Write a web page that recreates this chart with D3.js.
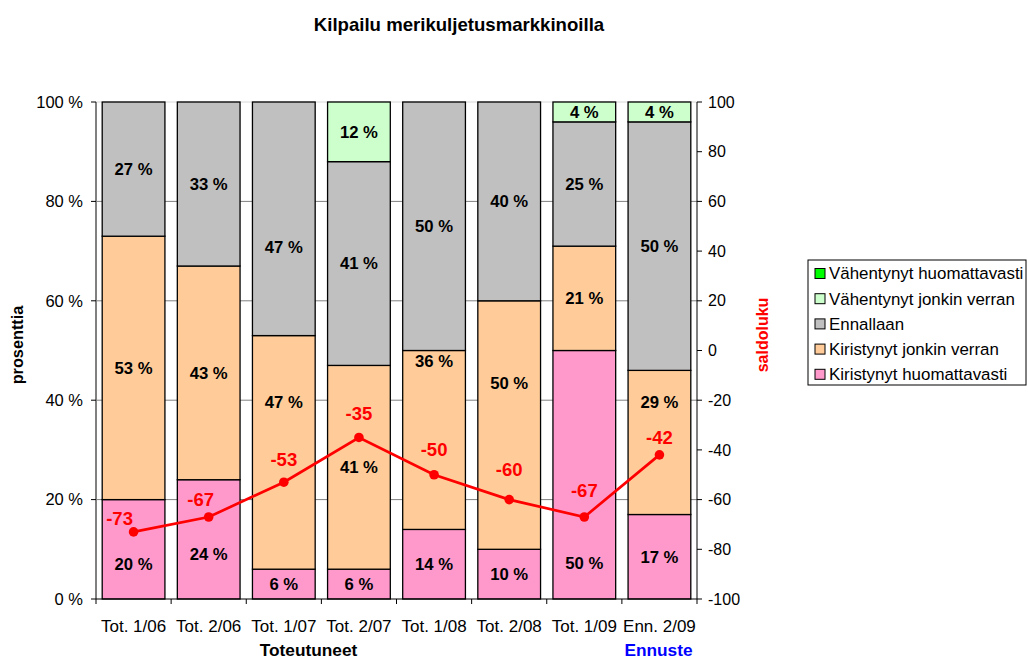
<!DOCTYPE html>
<html>
<head>
<meta charset="utf-8">
<script src="https://cdn.jsdelivr.net/npm/d3@7"></script>
<style>
  body { margin: 0; background: #fff; }
  svg text { font-family: "Liberation Sans", Arial, sans-serif; }
</style>
</head>
<body>
<div id="chart"></div>
<script>
// data
const categories = ["Tot. 1/06", "Tot. 2/06", "Tot. 1/07", "Tot. 2/07", "Tot. 1/08", "Tot. 2/08", "Tot. 1/09", "Enn. 2/09"];
const kirHuom = [20, 24, 6, 6, 14, 10, 50, 17];
const kirJonk = [53, 43, 47, 41, 36, 50, 21, 29];
const ennallaan = [27, 33, 47, 41, 50, 40, 25, 50];
const vahJonk = [0, 0, 0, 12, 0, 0, 4, 4];
const vahHuom = [0, 0, 0, 0, 0, 0, 0, 0];
const saldo = [-73, -67, -53, -35, -50, -60, -67, -42];
const leftTicks = [0, 20, 40, 60, 80, 100];
const rightTicks = [-100, -80, -60, -40, -20, 0, 20, 40, 60, 80, 100];

const series = [
  { name: "Kiristynyt huomattavasti", values: kirHuom, color: "#FF99CC" },
  { name: "Kiristynyt jonkin verran", values: kirJonk, color: "#FFCC99" },
  { name: "Ennallaan", values: ennallaan, color: "#C0C0C0" },
  { name: "Vähentynyt jonkin verran", values: vahJonk, color: "#CCFFCC" },
  { name: "Vähentynyt huomattavasti", values: vahHuom, color: "#00FF00" }
];

// hand-moved labels in the original (pixel shift from segment middle)
const barLabelShift = { "0-0": 15, "0-1": 15, "0-6": 88, "1-2": -50, "1-4": -79, "1-5": -42, "1-7": -40, "2-2": 28 };
const lineLabelDx = [-14, -8, 0, 0, 0, 0, 0, 0];
const lineLabelDy = [-13, -17, -23, -24, -25.5, -30.5, -26, -17];

const width = 1028, height = 659;
const margin = { top: 102, right: 331, bottom: 60, left: 96 };
const fs = 16.7;

const svg = d3.select("#chart").append("svg")
  .attr("width", width)
  .attr("height", height);

const x = d3.scaleBand()
  .domain(categories)
  .range([margin.left, width - margin.right])
  .paddingInner(0.165)
  .paddingOuter(0.0825);

const y = d3.scaleLinear().domain([0, 100]).range([height - margin.bottom, margin.top]);
const y2 = d3.scaleLinear().domain([-100, 100]).range(y.range());

// gridlines
svg.append("g")
  .selectAll("line")
  .data(leftTicks.filter(d => d > 0))
  .join("line")
  .attr("x1", margin.left).attr("x2", width - margin.right)
  .attr("y1", d => y(d)).attr("y2", d => y(d))
  .attr("stroke", d => d == 100 ? "#d8d8d8" : "#808080")
  .attr("stroke-width", 1);

// stacked bars
const rows = categories.map((c, i) => {
  const r = { cat: c, idx: i };
  series.forEach(s => r[s.name] = s.values[i]);
  return r;
});
const stack = d3.stack().keys(series.map(s => s.name))(rows);

const layers = svg.append("g")
  .selectAll("g.layer")
  .data(stack)
  .join("g")
  .attr("class", "layer")
  .attr("fill", (d, i) => series[i].color);

layers.selectAll("rect")
  .data(d => d.filter(p => p[1] - p[0] > 0))
  .join("rect")
  .attr("x", d => x(d.data.cat))
  .attr("width", x.bandwidth())
  .attr("y", d => y(d[1]))
  .attr("height", d => y(d[0]) - y(d[1]))
  .attr("stroke", "#000")
  .attr("stroke-width", 1.3);

layers.each(function (layer, li) {
  d3.select(this).selectAll("text")
    .data(layer.filter(p => p[1] - p[0] > 0))
    .join("text")
    .attr("x", d => x(d.data.cat) + x.bandwidth() / 2)
    .attr("y", d => y((d[0] + d[1]) / 2) + (barLabelShift[li + "-" + d.data.idx] || 0))
    .attr("dy", "0.35em")
    .attr("text-anchor", "middle")
    .attr("font-size", fs)
    .attr("font-weight", "bold")
    .attr("fill", "#000")
    .text(d => (d[1] - d[0]) + " %");
});

// left axis
const gl = svg.append("g");
gl.append("line")
  .attr("x1", margin.left).attr("x2", margin.left)
  .attr("y1", y(0)).attr("y2", y(100))
  .attr("stroke", "#808080").attr("stroke-width", 2);
gl.selectAll("line.tick")
  .data(leftTicks)
  .join("line")
  .attr("class", "tick")
  .attr("x1", margin.left - 5).attr("x2", margin.left)
  .attr("y1", d => y(d)).attr("y2", d => y(d))
  .attr("stroke", "#000");
gl.selectAll("text")
  .data(leftTicks)
  .join("text")
  .attr("x", margin.left - 13)
  .attr("y", d => y(d))
  .attr("dy", "0.35em")
  .attr("text-anchor", "end")
  .attr("font-size", 16.5)
  .text(d => d + " %");

// right axis
const xr = width - margin.right;
const gr = svg.append("g");
gr.append("line")
  .attr("x1", xr).attr("x2", xr)
  .attr("y1", y2(-100)).attr("y2", y2(100))
  .attr("stroke", "#000");
gr.selectAll("line.tick")
  .data(rightTicks)
  .join("line")
  .attr("class", "tick")
  .attr("x1", xr).attr("x2", xr + 5)
  .attr("y1", d => y2(d)).attr("y2", d => y2(d))
  .attr("stroke", "#000");
gr.selectAll("text")
  .data(rightTicks)
  .join("text")
  .attr("x", xr + 11)
  .attr("y", d => y2(d))
  .attr("dy", "0.35em")
  .attr("font-size", 16)
  .text(d => d);

// bottom axis
const gb = svg.append("g");
const yb = y(0);
gb.append("line")
  .attr("x1", margin.left).attr("x2", xr)
  .attr("y1", yb).attr("y2", yb)
  .attr("stroke", "#000");
gb.selectAll("line.tick")
  .data(d3.range(categories.length + 1))
  .join("line")
  .attr("class", "tick")
  .attr("x1", i => margin.left + i * (xr - margin.left) / categories.length)
  .attr("x2", i => margin.left + i * (xr - margin.left) / categories.length)
  .attr("y1", yb).attr("y2", yb + 5)
  .attr("stroke", "#000");
gb.selectAll("text")
  .data(categories)
  .join("text")
  .attr("x", d => x(d) + x.bandwidth() / 2)
  .attr("y", 626)
  .attr("dy", "0.35em")
  .attr("text-anchor", "middle")
  .attr("font-size", 17)
  .text(d => d);

// saldo line
const cx = i => x(categories[i]) + x.bandwidth() / 2;
svg.append("path")
  .datum(saldo)
  .attr("fill", "none")
  .attr("stroke", "#FF0000")
  .attr("stroke-width", 2.7)
  .attr("d", d3.line().x((d, i) => cx(i)).y(d => y2(d)));
svg.append("g")
  .selectAll("circle")
  .data(saldo)
  .join("circle")
  .attr("cx", (d, i) => cx(i))
  .attr("cy", d => y2(d))
  .attr("r", 4.8)
  .attr("fill", "#FF0000");

svg.append("g")
  .selectAll("text")
  .data(saldo)
  .join("text")
  .attr("x", (d, i) => cx(i) + lineLabelDx[i])
  .attr("y", (d, i) => y2(d) + lineLabelDy[i])
  .attr("dy", "0.35em")
  .attr("text-anchor", "middle")
  .attr("font-size", 18.5)
  .attr("font-weight", "bold")
  .attr("fill", "#FF0000")
  .text(d => d);

// titles
svg.append("text")
  .attr("x", 459).attr("y", 31)
  .attr("text-anchor", "middle")
  .attr("font-size", 18.6)
  .attr("font-weight", "bold")
  .text("Kilpailu merikuljetusmarkkinoilla");

svg.append("text")
  .attr("transform", `translate(23,345) rotate(-90)`)
  .attr("text-anchor", "middle")
  .attr("font-size", 16.3)
  .attr("font-weight", "bold")
  .text("prosenttia");

svg.append("text")
  .attr("transform", `translate(768,335) rotate(-90)`)
  .attr("text-anchor", "middle")
  .attr("font-size", 16)
  .attr("font-weight", "bold")
  .attr("fill", "#FF0000")
  .text("saldoluku");

svg.append("text")
  .attr("x", 308.5).attr("y", 656)
  .attr("text-anchor", "middle")
  .attr("font-size", 17.3)
  .attr("font-weight", "bold")
  .text("Toteutuneet");

svg.append("text")
  .attr("x", 658.5).attr("y", 656)
  .attr("text-anchor", "middle")
  .attr("font-size", 17.3)
  .attr("font-weight", "bold")
  .attr("fill", "#0000FF")
  .text("Ennuste");

// legend
const legend = svg.append("g").attr("transform", "translate(808,260)");
legend.append("rect")
  .attr("width", 218).attr("height", 125)
  .attr("fill", "#fff").attr("stroke", "#000");
const items = legend.selectAll("g.item")
  .data(series.slice().reverse())
  .join("g")
  .attr("class", "item")
  .attr("transform", (d, i) => `translate(7,${13.5 + i * 25.2})`);
items.append("rect")
  .attr("x", 0).attr("y", -5)
  .attr("width", 10).attr("height", 10)
  .attr("fill", d => d.color)
  .attr("stroke", "#000");
items.append("text")
  .attr("x", 14)
  .attr("dy", "0.35em")
  .attr("font-size", 16.9)
  .text(d => d.name);
</script>
</body>
</html>
